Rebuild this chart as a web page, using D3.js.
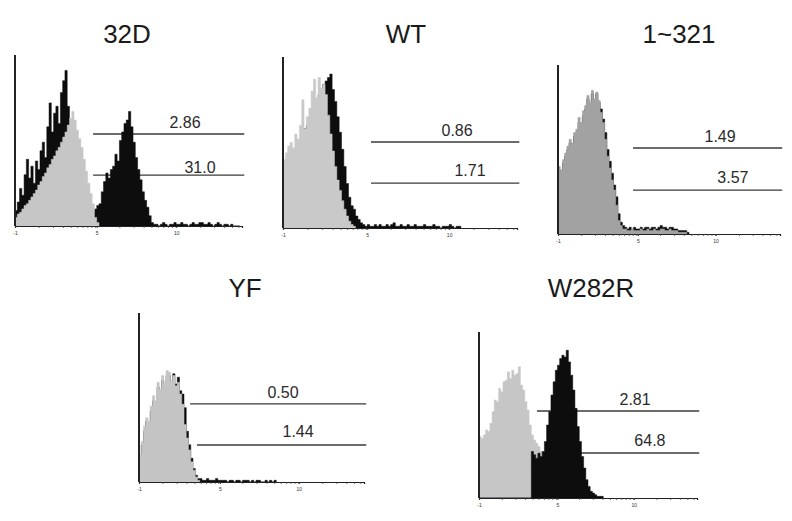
<!DOCTYPE html>
<html>
<head>
<meta charset="utf-8">
<script src="https://cdn.jsdelivr.net/npm/d3@7"></script>
<style>
body { margin: 0; background: #fff; }
svg { display: block; font-family: "Liberation Sans", Arial, sans-serif; }
</style>
</head>
<body>
<div id="container"></div>
<script>
//DATA (channel bins 0..100, counts as % of y axis height)
const titles = ['32D', 'WT', '1~321', 'YF', 'W282R']
const tickValues = [0, 36, 71]
const tickLabels = ['-1', '5', '10']

const gray32D = [5, 7, 8, 10, 12, 13, 15, 17, 19, 21, 24, 26, 29, 31, 34, 36, 39, 41, 44, 46, 49, 52, 55, 59, 63, 67,
    62, 56, 51, 46, 39, 32, 25, 19, 13, 5, 2]
const black32D = [9, 14, 22, 18, 30, 39, 28, 35, 25, 38, 33, 44, 49, 40, 58, 72, 55, 66, 70, 60, 78, 85, 91, 70,
    62, 48, 38, 28, 20, 15, 12, 10, 9, 9, 9, 10, 12, 13,
    20, 26, 31, 28, 33, 35, 42, 38, 50, 55, 60, 62, 67, 58, 49, 40, 33, 27, 20, 15, 11, 6, 2,
    1, 1, 0, 1, 2, 1, 0, 1, 1, 2, 1, 1, 2, 1, 1, 0, 1, 2, 1, 1, 2, 2, 1, 1, 2, 1, 0, 1, 2, 1, 0, 1, 1, 0, 1, 0, 0, 0]

const grayWT = [40, 44, 48, 50, 47, 55, 52, 60, 75, 58, 65, 70, 80, 87, 76, 88, 82, 84, 78, 66, 55, 45, 36, 28, 22,
    16, 11, 7, 4, 2, 1]
const blackWT = [30, 32, 35, 38, 40, 44, 46, 50, 55, 58, 60, 64, 68, 72, 75, 78, 80, 84, 86,
    88, 90, 81, 74, 65, 56, 46, 36, 26, 18, 13, 11, 7, 5, 3, 2,
    1, 2, 1, 1, 2, 1, 2, 1, 1, 2, 1, 2, 3, 1, 1, 2, 1, 1, 2, 1, 1, 2, 1, 1, 1, 2, 1, 1, 1, 2, 1, 1, 0, 1, 1, 1, 2, 1, 0, 1, 1]

const gray321 = [40, 38, 44, 48, 52, 56, 54, 60, 62, 69, 66, 73, 76, 82, 78, 85, 80, 84, 79, 72, 66, 56, 46, 39, 32,
    26, 17, 8, 5, 3, 3,
    2, 2, 3, 2, 2, 2, 3, 2, 2, 3, 2, 2, 3, 2, 2, 3, 3, 2, 2, 3, 2, 2, 2, 1, 1, 1, 1]
const black321 = [38, 36, 42, 46, 50, 54, 52, 58, 60, 66, 64, 70, 74, 80, 76, 83, 79, 83, 78,
    74, 68, 60, 50, 43, 36, 29, 22, 12, 7, 5, 4,
    3, 4, 3, 4, 3, 3, 4, 3, 4, 4, 3, 4, 4, 3, 4, 5, 4, 4, 3, 4, 4, 3, 3, 2, 2, 2, 2, 1]

const grayYF = [16, 24, 33, 38, 36, 45, 51, 48, 59, 55, 63, 58, 66, 65, 60, 63, 57, 59, 52, 46, 34, 26, 19, 12, 7, 3, 1]
const blackYF = [14, 22, 30, 36, 34, 42, 48, 46, 56, 53, 60, 56, 63, 63, 58,
    64, 58, 62, 54, 52, 44, 30, 22, 14, 8, 4, 2,
    2, 1, 1, 2, 1, 1, 1, 2, 1, 1, 1, 1, 0, 1, 1, 0, 1, 1, 0, 1, 1, 1, 0, 1, 0, 1, 1, 0, 0, 1, 0, 1, 0, 1]

const grayW282R = [37, 36, 38, 41, 40, 45, 52, 59, 58, 66, 64, 70, 71, 76, 72, 77, 74, 75, 79, 68, 65, 58, 53, 44,
    38, 35, 33, 31, 28, 24, 18, 12, 7, 3, 1]
const blackW282R = [0, 0, 0, 0, 0, 0, 0, 0, 0, 0, 0, 0, 0, 0, 0, 0, 0, 0, 0, 0, 0, 0, 0, 0,
    28, 26, 24, 27, 25, 28, 34, 44, 52, 62, 70, 77, 80, 84, 86, 85, 89, 82, 74, 65, 54, 43, 34, 25, 18, 11, 7, 4, 3, 2, 1, 1, 1]

const grays = [gray32D, grayWT, gray321, grayYF, grayW282R]
const blacks = [black32D, blackWT, black321, blackYF, blackW282R]

//GATES (upper / lower marker lines with % values)
const gateUpper = [53.8, 50.3, 50.9, 46.2, 52.4]
const gateLower = [29.8, 26.3, 26.0, 21.9, 27.1]
const gateUpperStart = [34.4, 37.6, 33.8, 22.7, 26.6]
const gateLowerStart = [34.4, 37.6, 33.8, 25.8, 26.6]
const gateUpperLabels = ['2.86', '0.86', '1.49', '0.50', '2.81']
const gateLowerLabels = ['31.0', '1.71', '3.57', '1.44', '64.8']
const gateUpperLabelX = [74.9, 74.4, 73, 64, 71.6]
const gateLowerLabelX = [81.5, 79.9, 78.8, 70.7, 78.4]

//LAYOUT
const w = 792
const h = 521
const panels = [
    {x0: 15, x1: 242, top: 55, base: 226, titleX: 127, titleY: 43, fill: '#c6c6c6', blackOnTop: false, lowGap: 2},
    {x0: 283, x1: 517, top: 57, base: 228, titleX: 406, titleY: 43, fill: '#c9c9c9', blackOnTop: false, lowGap: 7},
    {x0: 558, x1: 780, top: 65, base: 234, titleX: 679, titleY: 43, fill: '#a2a2a2', blackOnTop: false, lowGap: 7},
    {x0: 139, x1: 364, top: 313, base: 482, titleX: 245, titleY: 297, fill: '#c4c4c4', blackOnTop: false, lowGap: 8},
    {x0: 479, x1: 697, top: 332, base: 498, titleX: 591, titleY: 297, fill: '#c6c6c6', blackOnTop: true, lowGap: 7}
]

const svg = d3.select('#container')
    .append('svg')
    .attr('width', w)
    .attr('height', h)

//step points for a binned histogram
function steps(values) {
    const pts = []
    values.forEach((v, i) => {
        pts.push([i, v])
        pts.push([i + 1, v])
    })
    return pts
}

//minor log ticks across the axis
const minorTicks = []
for (let d = 0; d < 3; d++) {
    for (let k = 2; k <= 10; k++) {
        const t = d * 35.5 + 35.5 * Math.log10(k)
        if (t <= 100) minorTicks.push(t)
    }
}

panels.forEach((p, i) => {
    const xscale = d3.scaleLinear().domain([0, 100]).range([p.x0, p.x1])
    const yscale = d3.scaleLinear().domain([0, 100]).range([p.base, p.top])
    const g = svg.append('g').attr('class', 'panel')

    const area = d3.area()
        .x(d => xscale(d[0]))
        .y0(yscale(0))
        .y1(d => yscale(d[1]))

    //TITLE
    g.append('text')
        .attr('x', p.titleX)
        .attr('y', p.titleY)
        .attr('text-anchor', 'middle')
        .attr('font-size', 26)
        .attr('fill', '#1a1a1a')
        .text(titles[i])

    //GATE LINES
    g.append('line')
        .attr('x1', xscale(gateUpperStart[i]))
        .attr('x2', xscale(101))
        .attr('y1', yscale(gateUpper[i]))
        .attr('y2', yscale(gateUpper[i]))
        .attr('stroke', '#3a3a3a')
        .attr('stroke-width', 1.3)
    g.append('line')
        .attr('x1', xscale(gateLowerStart[i]))
        .attr('x2', xscale(101))
        .attr('y1', yscale(gateLower[i]))
        .attr('y2', yscale(gateLower[i]))
        .attr('stroke', '#3a3a3a')
        .attr('stroke-width', 1.3)

    //HISTOGRAMS
    const layers = p.blackOnTop
        ? [[grays[i], p.fill], [blacks[i], '#0d0d0d']]
        : [[blacks[i], '#0d0d0d'], [grays[i], p.fill]]
    layers.forEach(l => {
        g.append('path')
            .datum(steps(l[0]))
            .attr('d', area)
            .attr('fill', l[1])
            .attr('stroke', l[1])
            .attr('stroke-width', 0.5)
    })

    //GATE LABELS
    g.append('text')
        .attr('x', xscale(gateUpperLabelX[i]))
        .attr('y', yscale(gateUpper[i]) - 6)
        .attr('text-anchor', 'middle')
        .attr('font-size', 16)
        .attr('fill', '#2a2a2a')
        .text(gateUpperLabels[i])
    g.append('text')
        .attr('x', xscale(gateLowerLabelX[i]))
        .attr('y', yscale(gateLower[i]) - p.lowGap)
        .attr('text-anchor', 'middle')
        .attr('font-size', 16)
        .attr('fill', '#2a2a2a')
        .text(gateLowerLabels[i])

    //AXES
    g.append('line')
        .attr('x1', p.x0).attr('x2', p.x0)
        .attr('y1', p.top).attr('y2', p.base)
        .attr('stroke', '#222')
        .attr('stroke-width', 2)
    const xaxis = d3.axisBottom(xscale)
        .tickValues(tickValues)
        .tickFormat((d, j) => tickLabels[j])
        .tickSize(2)
        .tickPadding(3)
    const ax = g.append('g')
        .attr('transform', 'translate(0,' + p.base + ')')
        .call(xaxis)
    ax.select('.domain').attr('stroke', '#222').attr('stroke-width', 1.2)
    ax.selectAll('.tick text').attr('font-size', 5).attr('fill', '#333')
    ax.selectAll('.tick line').attr('stroke', '#333')
    ax.selectAll('.minor')
        .data(minorTicks)
        .enter()
        .append('line')
        .attr('class', 'minor')
        .attr('x1', d => xscale(d)).attr('x2', d => xscale(d))
        .attr('y1', 0).attr('y2', 2)
        .attr('stroke', '#444')
        .attr('stroke-width', 0.8)
})
</script>
</body>
</html>
